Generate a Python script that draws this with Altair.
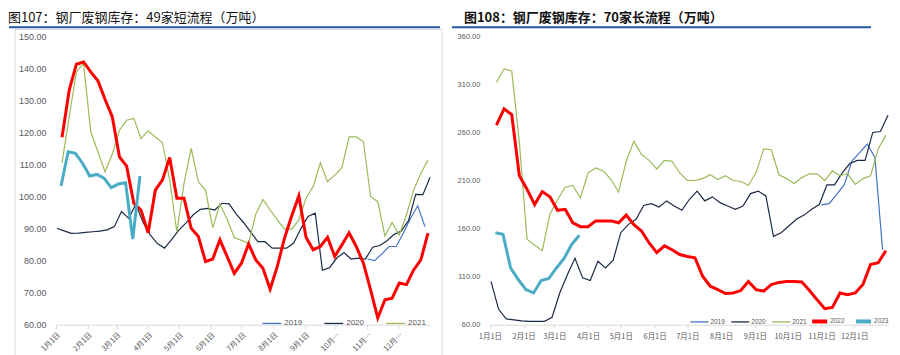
import altair as alt
import pandas as pd

YEARS = ["2019", "2020", "2021", "2022", "2023"]
COLORS = ["#4472C4", "#1B2A47", "#9BBB59", "#FF0000", "#4BACC6"]
MONTH_START_DAYS = [0, 31, 59, 90, 120, 151, 181, 212, 243, 273, 304, 334]
START_DAY = {"2019": 304, "2020": 1, "2021": 6, "2022": 6, "2023": 5}

# 图107: 49家短流程 (weekly)
short_2019 = [80.5, 80.0, 82.1, 84.4, 84.4, 88.6, 93.2, 97.1, 90.6]
short_2020 = [90.1, 89.3, 88.5, 88.6, 88.8, 89.0, 89.2, 89.6, 90.6, 95.3,
              93.2, 97.6, 92.0, 88.0, 85.3, 83.9, 86.6, 89.5, 91.8, 94.3,
              96.0, 96.3, 95.8, 97.9, 97.7, 94.5, 91.9, 89.0, 85.9, 85.9,
              83.9, 83.9, 83.9, 85.5, 90.0, 93.8, 94.8, 77.0, 77.8, 80.8,
              82.5, 80.5, 80.8, 80.5, 84.2, 84.7, 86.2, 88.2, 89.2, 92.5,
              100.7, 100.6, 106.0]
short_2021 = [110.5, 124.9, 138.9, 141.5, 120.2, 114.0, 107.7, 113.2, 120.7, 123.8,
              124.4, 118.1, 120.5, 118.6, 116.8, 105.2, 89.0, 104.1, 115.0, 104.6,
              102.0, 90.3, 97.6, 93.0, 87.2, 86.3, 85.4, 94.5, 99.1, 95.8,
              92.7, 89.8, 89.8, 92.7, 99.5, 103.1, 110.5, 104.6, 106.7, 109.0,
              118.6, 118.6, 117.1, 100.0, 98.4, 87.7, 91.9, 88.0, 94.3, 102.0,
              107.2, 111.4]
short_2022 = [118.5, 133.2, 141.3, 142.0, 138.9, 136.1, 130.3, 124.9, 112.4, 109.5,
              97.9, 95.8, 88.7, 102.0, 105.2, 112.2, 99.5, 99.5, 90.1, 87.5,
              79.7, 80.5, 86.5, 81.3, 76.0, 79.2, 85.2, 80.2, 77.6, 71.1,
              78.2, 87.0, 93.9, 100.2, 87.3, 83.4, 84.4, 87.3, 81.3, 84.9,
              88.7, 84.4, 79.2, 70.9, 62.1, 67.8, 68.3, 73.0, 72.5, 77.1,
              80.2, 88.6]
short_2023 = [103.3, 114.0, 113.5, 110.4, 106.4, 106.9, 105.7, 102.8, 103.9, 104.3,
              86.7, 106.4]

# 图108: 70家长流程 (weekly)
long_2019 = [184.7, 186.0, 195.7, 206.0, 230.5, 239.0, 248.0, 234.0, 138.0]
long_2020 = [105.0, 76.0, 66.0, 65.0, 64.0, 63.5, 63.5, 63.5, 67.7, 93.0,
             112.0, 129.0, 108.7, 106.0, 126.0, 119.0, 127.0, 155.7, 164.4, 169.6,
             184.0, 186.0, 182.5, 188.8, 183.5, 179.0, 190.5, 199.0, 188.8, 193.0,
             187.0, 183.5, 180.0, 183.5, 196.4, 199.0, 194.0, 152.0, 155.7, 162.7,
             169.6, 174.0, 180.0, 185.0, 205.5, 205.5, 218.0, 227.7, 231.0, 231.0,
             260.0, 261.0, 278.0]
long_2021 = [312, 326, 324, 250, 149, 143, 137, 175, 190, 203,
             205, 192, 218, 223, 220, 211, 198, 230, 251, 237,
             231, 222, 231, 230, 218, 210, 210, 212, 216, 211,
             215, 210, 209, 205, 218, 243, 242, 216, 212, 207,
             213, 217, 217, 210, 220, 215, 217, 206, 212, 215,
             243, 257]
long_2022 = [267.7, 284.5, 278.5, 215, 201, 185, 198.5, 193, 179, 180,
             166, 162, 162, 168, 168, 168, 166, 174, 164, 157.5,
             145, 135, 142, 138, 133, 131, 129.6, 110.5, 100, 96.5,
             92.4, 93, 95.5, 105, 96.5, 95, 101.8, 104, 105, 105,
             104.5, 95.5, 86, 76.7, 78, 93, 91.3, 93, 101.8, 122.6,
             124.4, 137]
long_2023 = [155.7, 154, 119, 107, 96.5, 93, 106, 108, 119, 129, 143.5, 153]


def build(series):
    rows = []
    for yr, vals in series.items():
        for i, v in enumerate(vals):
            rows.append({"day": START_DAY[yr] + 7 * i, "value": v, "year": yr})
    return pd.DataFrame(rows)


short_df = build({"2019": short_2019, "2020": short_2020, "2021": short_2021,
                  "2022": short_2022, "2023": short_2023})
long_df = build({"2019": long_2019, "2020": long_2020, "2021": long_2021,
                 "2022": long_2022, "2023": long_2023})

FONT_CJK = "Noto Sans CJK SC"
FONT_NUM = "Liberation Sans"
GREY = "#595959"
LABEL_EXPR = ("(indexof([" + ",".join(str(d) for d in MONTH_START_DAYS)
              + "], datum.value) + 1) + '月1日'")
THICK = "datum.year == '2022' || datum.year == '2023'"

one = pd.DataFrame({"k": [0]})


def decorations(rule_x, rule_x2, rule_y, frame=None):
    layers = [alt.Chart(one).mark_rule(color="#1F5AA6", strokeWidth=2).encode(
        x=alt.value(rule_x), x2=alt.value(rule_x2), y=alt.value(rule_y))]
    if frame is not None:
        layers.append(alt.Chart(one).mark_rect(fillOpacity=0, stroke="#D9D9D9", strokeWidth=1).encode(
            x=alt.value(frame[0]), x2=alt.value(frame[1]),
            y=alt.value(frame[2]), y2=alt.value(frame[3])))
    return layers


def title(text, weight, dx):
    return alt.TitleParams(text, anchor="start", font=FONT_CJK, fontSize=13,
                           fontWeight=weight, color="#111111", offset=1, dx=dx)


# ---------- left panel ----------
left_lines = alt.Chart(short_df).mark_line().encode(
    x=alt.X("day:Q", scale=alt.Scale(domain=[0, 365], nice=False, zero=False),
            axis=alt.Axis(values=MONTH_START_DAYS, labelExpr=LABEL_EXPR, labelAngle=-45,
                          labelFont=FONT_CJK, labelFontSize=7.5, labelColor=GREY, labelLimit=25,
                          labelOverlap=False, labelFlush=False, labelBound=False,
                          domainColor="#D9D9D9", tickColor="#D9D9D9", tickSize=4,
                          grid=False, title=None, labelPadding=2)),
    y=alt.Y("value:Q", scale=alt.Scale(domain=[60, 150], nice=False, zero=False),
            axis=alt.Axis(values=list(range(60, 151, 10)), format=".2f", labelFont=FONT_NUM,
                          labelFontSize=9, labelColor=GREY, domain=False, ticks=False,
                          grid=False, title=None, labelPadding=10)),
    color=alt.Color("year:N", scale=alt.Scale(domain=YEARS, range=COLORS),
                    legend=alt.Legend(title=None, orient="none", legendX=206, legendY=277,
                                      direction="horizontal", columns=3,
                                      values=["2019", "2020", "2021"],
                                      symbolType="stroke", symbolSize=361, symbolStrokeWidth=1.3,
                                      labelFont=FONT_NUM, labelFontSize=8, labelColor=GREY,
                                      labelOffset=2, columnPadding=19)),
    strokeWidth=alt.condition(THICK, alt.value(3), alt.value(1.2)),
)

left = alt.layer(*decorations(-47, 385, -9, frame=(-41, 387, -7, 330)), left_lines).properties(
    width=375, height=289,
    title=title("图107：钢厂废钢库存：49家短流程（万吨）", "normal", 0),
)

# ---------- right panel ----------
right_lines = alt.Chart(long_df).mark_line().encode(
    x=alt.X("day:Q", scale=alt.Scale(domain=[0, 365], nice=False, zero=False),
            axis=alt.Axis(values=MONTH_START_DAYS, labelExpr=LABEL_EXPR, labelAngle=0,
                          labelFont=FONT_CJK, labelFontSize=7.5, labelColor=GREY,
                          labelOverlap=False, labelFlush=False, labelBound=False,
                          domainColor="#D9D9D9", tickColor="#D9D9D9", tickSize=3,
                          grid=False, title=None, labelPadding=5)),
    y=alt.Y("value:Q", scale=alt.Scale(domain=[60, 360], nice=False, zero=False),
            axis=alt.Axis(values=list(range(60, 361, 50)), format=".2f", labelFont=FONT_NUM,
                          labelFontSize=7.5, labelColor=GREY, domain=False, ticks=False,
                          grid=False, title=None, labelPadding=10)),
    color=alt.Color("year:N", scale=alt.Scale(domain=YEARS, range=COLORS),
                    legend=alt.Legend(title=None, orient="none", legendX=200, legendY=276,
                                      direction="horizontal", columns=3,
                                      values=["2019", "2020", "2021"],
                                      symbolType="stroke", symbolSize=324, symbolStrokeWidth=1.3,
                                      labelFont=FONT_NUM, labelFontSize=6.5, labelColor=GREY,
                                      labelOffset=1, columnPadding=3)),
    strokeWidth=alt.condition(THICK, alt.value(3), alt.value(1.2)),
)

# legend entries for the thick series (no marks drawn: data filtered out)
THICK_YEARS = ["2022", "2023"]
THICK_COLORS = ["#FF0000", "#4BACC6"]
right_thick_legend = alt.Chart(long_df).transform_calculate(yr="datum.year").transform_filter(
    "false").mark_point(filled=False, strokeWidth=4).encode(
    stroke=alt.Stroke("yr:N", scale=alt.Scale(domain=THICK_YEARS, range=THICK_COLORS),
                      legend=alt.Legend(title=None, orient="none", legendX=321, legendY=276,
                                        direction="horizontal", columns=2,
                                        symbolType="stroke", symbolSize=225, symbolStrokeWidth=4,
                                        symbolOpacity=1,
                                        labelFont=FONT_NUM, labelFontSize=6.5, labelColor=GREY,
                                        labelOffset=1, columnPadding=3)),
)

right = alt.layer(*decorations(-38, 382, -9), right_lines, right_thick_legend).properties(
    width=399, height=289,
    title=title("图108：钢厂废钢库存：70家长流程（万吨）", "bold", 13),
)

chart = alt.hconcat(left, right, spacing=8).resolve_scale(
    color="independent", stroke="independent").resolve_legend(
    color="independent", stroke="independent").configure_view(stroke=None).properties(
    padding={"left": 0, "top": 4, "right": 0, "bottom": 0})

chart.save("out.html", embed_options={"renderer": "svg", "actions": False})
